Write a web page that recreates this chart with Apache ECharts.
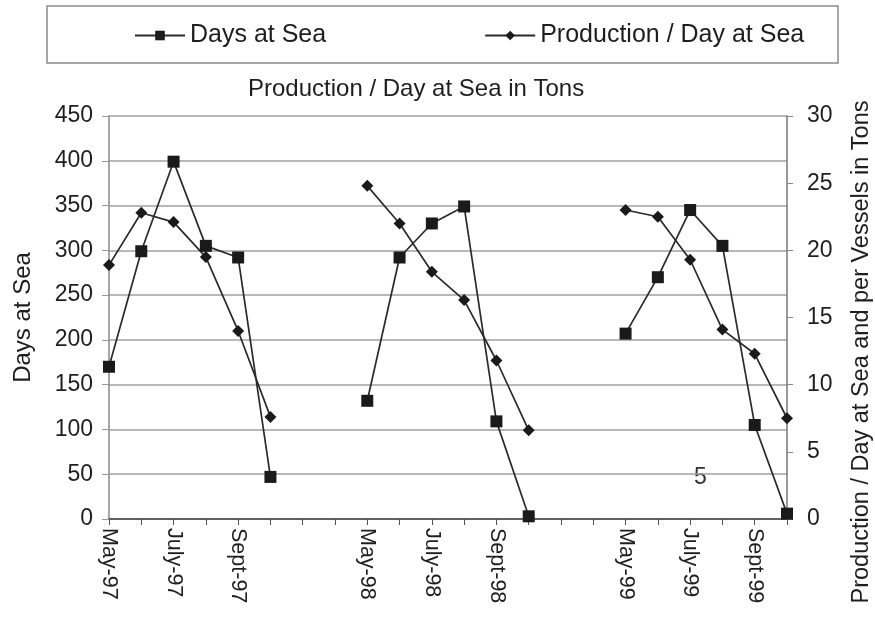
<!DOCTYPE html>
<html>
<head>
<meta charset="utf-8">
<title>Days at Sea and Production / Day at Sea</title>
<script src="https://cdn.jsdelivr.net/npm/echarts@6/dist/echarts.min.js"></script>
<style>
  html, body { margin: 0; padding: 0; background: #fff; }
  #chart { width: 875px; height: 628px; }
</style>
</head>
<body>
<div id="chart"></div>
<script>
// Fishing months for three seasons, with two empty slots between seasons
const months = [
  'May-97', 'June-97', 'July-97', 'Aug-97', 'Sept-97', 'Oct-97', '', '',
  'May-98', 'June-98', 'July-98', 'Aug-98', 'Sept-98', 'Oct-98', '', '',
  'May-99', 'June-99', 'July-99', 'Aug-99', 'Sept-99', 'Oct-99'
];

// Days at sea per month (left axis)
const daysAtSea = [
  170, 299, 399, 305, 292, 47, null, null,
  132, 292, 330, 349, 109, 3, null, null,
  207, 270, 345, 305, 105, 6
];

// Production per day at sea, tons (right axis)
const productionPerDay = [
  18.9, 22.8, 22.1, 19.5, 14.0, 7.6, null, null,
  24.8, 22.0, 18.4, 16.3, 11.8, 6.6, null, null,
  23.0, 22.5, 19.3, 14.1, 12.3, 7.5
];

const FONT = 'Liberation Sans';
const INK = '#1e1e1e';
const chart = echarts.init(document.getElementById('chart'), null, { renderer: 'canvas' });

chart.setOption({
  backgroundColor: '#ffffff',
  animation: false,
  textStyle: { fontFamily: FONT, color: INK },
  title: {
    text: 'Production / Day at Sea in Tons',
    left: 243,
    top: 72,
    textStyle: { fontFamily: FONT, fontSize: 24, fontWeight: 'normal', color: INK }
  },
  legend: {
    left: 129,
    top: 18,
    itemGap: 158,
    itemWidth: 50,
    itemHeight: 12,
    textStyle: { fontFamily: FONT, fontSize: 25, color: INK },
    data: ['Days at Sea', 'Production / Day at Sea']
  },
  graphic: [
    {
      type: 'rect',
      shape: { x: 47, y: 6, width: 791, height: 57 },
      style: { fill: 'none', stroke: '#8a8a8a', lineWidth: 1.5 },
      silent: true
    },
    {
      type: 'text',
      x: 862,
      y: 352,
      rotation: Math.PI / 2,
      style: {
        text: 'Production / Day at Sea and per Vessels in Tons',
        fontFamily: FONT, fontSize: 23.5, fill: INK,
        align: 'center', verticalAlign: 'middle'
      },
      silent: true
    },
    {
      type: 'text',
      left: 694,
      top: 466,
      style: { text: '5', fontFamily: FONT, fontSize: 23, fill: '#333' },
      silent: true
    }
  ],
  grid: { left: 109, right: 88, top: 116, bottom: 109, containLabel: false },
  xAxis: {
    type: 'category',
    data: months,
    boundaryGap: false,
    axisLine: { lineStyle: { color: '#444', width: 1.5 } },
    axisTick: { interval: 0, length: 6, lineStyle: { color: '#555' } },
    axisLabel: {
      interval: 1,
      rotate: -90,
      margin: 9,
      fontFamily: FONT,
      fontSize: 21.5,
      color: INK
    },
    splitLine: { show: false }
  },
  yAxis: [
    {
      type: 'value',
      min: 0,
      max: 450,
      interval: 50,
      name: 'Days at Sea',
      nameLocation: 'middle',
      nameGap: 74,
      nameRotate: 90,
      nameTextStyle: { fontFamily: FONT, fontSize: 24, color: INK },
      axisLine: { show: true, lineStyle: { color: '#888', width: 1.5 } },
      axisTick: { show: true, length: 7, lineStyle: { color: '#999' } },
      axisLabel: { margin: 16, fontFamily: FONT, fontSize: 23, color: INK },
      splitLine: { show: true, lineStyle: { color: '#a0a0a0', width: 1.6 } }
    },
    {
      type: 'value',
      min: 0,
      max: 30,
      interval: 5,
      position: 'right',
      axisLine: { show: true, lineStyle: { color: '#777', width: 1.5 } },
      axisTick: { show: true, length: 6, lineStyle: { color: '#888' } },
      axisLabel: { margin: 20, fontFamily: FONT, fontSize: 23, color: INK },
      splitLine: { show: false }
    }
  ],
  series: [
    {
      name: 'Days at Sea',
      type: 'line',
      yAxisIndex: 0,
      data: daysAtSea,
      connectNulls: false,
      symbol: 'rect',
      symbolSize: 12,
      lineStyle: { color: '#2a2a2a', width: 1.7 },
      itemStyle: { color: '#1a1a1a' }
    },
    {
      name: 'Production / Day at Sea',
      type: 'line',
      yAxisIndex: 1,
      data: productionPerDay,
      connectNulls: false,
      symbol: 'diamond',
      symbolSize: 12,
      lineStyle: { color: '#2a2a2a', width: 1.7 },
      itemStyle: { color: '#1a1a1a' }
    }
  ]
});
</script>
</body>
</html>
